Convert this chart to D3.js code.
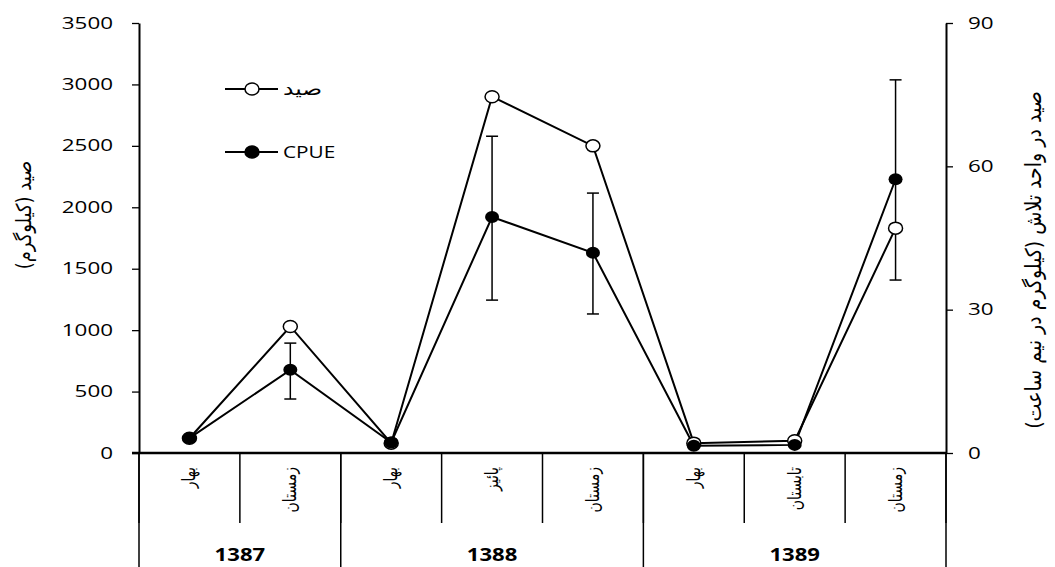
<!DOCTYPE html>
<html>
<head>
<meta charset="utf-8">
<script src="https://d3js.org/d3.v7.min.js"></script>
<style>
  body { margin: 0; background: #fff; }
  text { font-family: "Open Sans", "DejaVu Sans", sans-serif; fill: #000; }
  .fa { font-family: "DejaVu Sans", sans-serif; }
</style>
</head>
<body>
<script>
// categories (season, year)
var seasons = ["بهار", "زمستان", "بهار", "پائیز", "زمستان", "بهار", "تابستان", "زمستان"];
var years = ["1387", "1388", "1389"];
var yearSpan = [2, 3, 3];

// صید (kg) - left axis
var catchKg = [120, 1030, 80, 2900, 2500, 80, 100, 1830];
// CPUE - right axis, with error bar bounds
var cpue = [3.1, 17.4, 2.2, 49.4, 41.9, 1.5, 1.7, 57.3];
var cpueLow = [3.1, 11.3, 2.2, 32.0, 29.1, 1.5, 1.7, 36.2];
var cpueHigh = [3.1, 23.0, 2.2, 66.3, 54.4, 1.5, 1.7, 78.1];

var leftTicks = [0, 500, 1000, 1500, 2000, 2500, 3000, 3500];
var rightTicks = [0, 30, 60, 90];

var width = 1055, height = 567;
var pLeft = 139, pRight = 946, pTop = 23, pBottom = 453;
var sx = 1.4; // the original is stretched horizontally

var svg = d3.select("body").append("svg")
  .attr("width", width)
  .attr("height", height);

var x = d3.scaleBand().domain(d3.range(seasons.length)).range([pLeft, pRight]);
var yL = d3.scaleLinear().domain([0, 3500]).range([pBottom, pTop]);
var yR = d3.scaleLinear().domain([0, 90]).range([pBottom, pTop]);
var cx = function(i) { return x(i) + x.bandwidth() / 2; };

// axes
var gL = svg.append("g").attr("transform", "translate(" + pLeft + ",0)")
  .call(d3.axisLeft(yL).tickValues(leftTicks).tickSize(7).tickSizeOuter(0).tickFormat(d3.format("d")));
var gR = svg.append("g").attr("transform", "translate(" + pRight + ",0)")
  .call(d3.axisRight(yR).tickValues(rightTicks).tickSize(7).tickSizeOuter(0));

[gL, gR].forEach(function(g) {
  g.select(".domain").attr("stroke-width", 2);
  g.selectAll(".tick line").attr("stroke-width", 1.3);
  g.selectAll(".tick text")
    .style("font-size", "16px")
    .attr("x", 0);
});
gL.selectAll(".tick text").attr("transform", "translate(-26,0) scale(" + sx + ",1)");
gR.selectAll(".tick text").attr("transform", "translate(22,0) scale(" + sx + ",1)");

// category table under the axis
var tbl = svg.append("g").attr("stroke", "#000").attr("stroke-width", 1.5);
tbl.append("line").attr("x1", pLeft - 7).attr("x2", pRight).attr("y1", pBottom).attr("y2", pBottom).attr("stroke-width", 2.5);
d3.range(seasons.length + 1).forEach(function(i) {
  tbl.append("line")
    .attr("x1", x.step() * i + pLeft).attr("x2", x.step() * i + pLeft)
    .attr("y1", pBottom).attr("y2", 523);
});
var acc = 0, yearBounds = [0];
yearSpan.forEach(function(n) { acc += n; yearBounds.push(acc); });
yearBounds.forEach(function(b) {
  tbl.append("line")
    .attr("x1", pLeft + x.step() * b).attr("x2", pLeft + x.step() * b)
    .attr("y1", pBottom).attr("y2", height);
});

svg.selectAll(".season")
  .data(seasons)
  .enter()
  .append("text")
    .attr("class", "season fa")
    .attr("text-anchor", "end")
    .attr("transform", function(d, i) { return "translate(" + (cx(i) + 6) + ",467) rotate(-90) scale(1,1.3)"; })
    .style("font-size", "14px")
    .text(function(d) { return d; });

svg.selectAll(".year")
  .data(years)
  .enter()
  .append("text")
    .attr("text-anchor", "middle")
    .attr("transform", function(d, i) {
      var mid = pLeft + x.step() * (yearBounds[i] + yearBounds[i + 1]) / 2;
      return "translate(" + mid + ",561) scale(1.3,1)";
    })
    .style("font-size", "17px")
    .style("font-weight", "bold")
    .text(function(d) { return d; });

// axis titles
svg.append("text")
  .attr("class", "fa")
  .attr("direction", "rtl")
  .attr("text-anchor", "middle")
  .attr("transform", "translate(31,215) rotate(-90) scale(1,1.15)")
  .style("font-size", "18px")
  .text("صید (کیلوگرم)");

svg.append("text")
  .attr("class", "fa")
  .attr("direction", "rtl")
  .attr("text-anchor", "middle")
  .attr("transform", "translate(1041,260) rotate(-90) scale(1,1.15)")
  .style("font-size", "19px")
  .text("صید در واحد تلاش (کیلوگرم در نیم ساعت)");

// error bars
var eb = svg.append("g").attr("stroke", "#000").attr("stroke-width", 1.5);
cpue.forEach(function(v, i) {
  if (cpueHigh[i] - cpueLow[i] < 0.5) return;
  eb.append("line").attr("x1", cx(i)).attr("x2", cx(i)).attr("y1", yR(cpueLow[i])).attr("y2", yR(cpueHigh[i]));
  eb.append("line").attr("x1", cx(i) - 6).attr("x2", cx(i) + 6).attr("y1", yR(cpueLow[i])).attr("y2", yR(cpueLow[i]));
  eb.append("line").attr("x1", cx(i) - 6).attr("x2", cx(i) + 6).attr("y1", yR(cpueHigh[i])).attr("y2", yR(cpueHigh[i]));
});

// lines
var lineL = d3.line().x(function(d, i) { return cx(i); }).y(function(d) { return yL(d); });
var lineR = d3.line().x(function(d, i) { return cx(i); }).y(function(d) { return yR(d); });

svg.append("path").datum(catchKg).attr("d", lineL)
  .attr("fill", "none").attr("stroke", "#000").attr("stroke-width", 2);
svg.append("path").datum(cpue).attr("d", lineR)
  .attr("fill", "none").attr("stroke", "#000").attr("stroke-width", 2);

svg.selectAll(".ptC")
  .data(catchKg)
  .enter()
  .append("ellipse")
    .attr("cx", function(d, i) { return cx(i); })
    .attr("cy", function(d) { return yL(d); })
    .attr("rx", 7).attr("ry", 6)
    .attr("fill", "#fff").attr("stroke", "#000").attr("stroke-width", 1.5);

svg.selectAll(".ptR")
  .data(cpue)
  .enter()
  .append("ellipse")
    .attr("cx", function(d, i) { return cx(i); })
    .attr("cy", function(d) { return yR(d); })
    .attr("rx", 7).attr("ry", 6)
    .attr("fill", "#000");

// legend
var legend = [
  { label: "صید", y: 89, filled: false },
  { label: "CPUE", y: 152, filled: true }
];
legend.forEach(function(l) {
  svg.append("line").attr("x1", 225).attr("x2", 278).attr("y1", l.y).attr("y2", l.y)
    .attr("stroke", "#000").attr("stroke-width", 2);
  svg.append("ellipse").attr("cx", 252).attr("cy", l.y).attr("rx", 7).attr("ry", 6)
    .attr("fill", l.filled ? "#000" : "#fff").attr("stroke", "#000").attr("stroke-width", 1.5);
  svg.append("text")
    .attr("class", l.filled ? "" : "fa")
    .attr("transform", "translate(283," + (l.y + 6) + ") scale(1.3,1)")
    .style("font-size", l.filled ? "16px" : "18px")
    .text(l.label);
});
</script>
</body>
</html>
